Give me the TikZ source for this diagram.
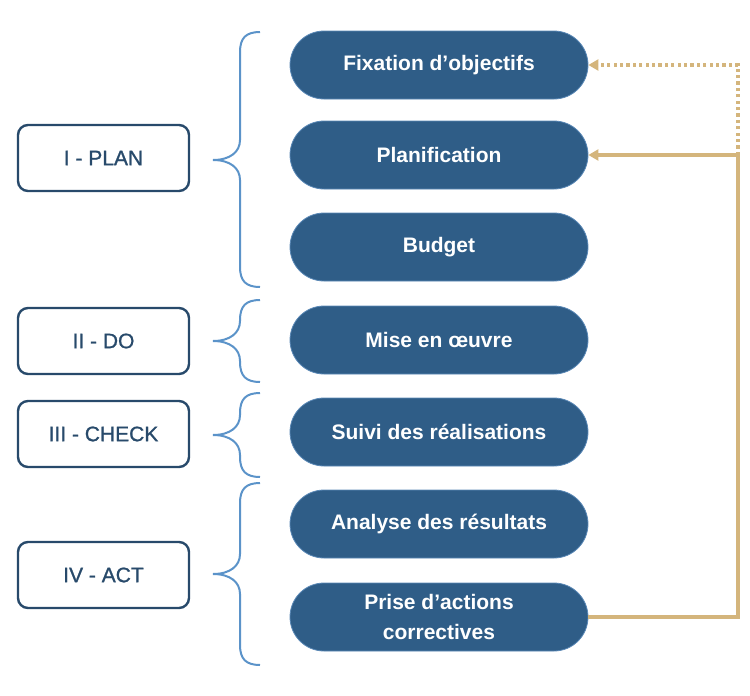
\documentclass[tikz,border=0pt]{standalone}
\usepackage{fontspec}
\setmainfont{Liberation Sans}
\newfontfamily\moyen[FakeBold=1]{Liberation Sans}
\usetikzlibrary{arrows.meta,shapes.misc}
\definecolor{bleu}{HTML}{2F5D87}
\definecolor{bordpill}{HTML}{5A88B6}
\definecolor{marine}{HTML}{284A6B}
\definecolor{ciel}{HTML}{5B93C9}
\definecolor{sable}{HTML}{D4B57C}

\begin{document}
\begin{tikzpicture}[x=1pt,y=-1pt,
    etape/.style ={rounded rectangle, draw=bordpill, line width=0.8pt, fill=bleu, text=white, inner sep=0pt,
                   minimum width=298pt, minimum height=68pt, align=center, font=\fontsize{21}{30}\selectfont\bfseries},
    phase/.style ={rectangle, rounded corners=10pt, draw=marine, line width=2.4pt, fill=white, text=marine,
                   minimum width=171pt, minimum height=66pt, font=\moyen\fontsize{21}{24}\selectfont},
    accolade/.style ={draw=ciel, line width=2pt},
    retour/.style ={draw=sable, line width=3.2pt, -{Triangle[length=10pt,width=11pt]}}]
   \useasboundingbox (0,0) rectangle (750,696);
   % phases
   \node[phase] (P) at (103.5,158) {I - PLAN};
   \node[phase] (D) at (103.5,341) {II - DO};
   \node[phase] (C) at (103.5,434) {III - CHECK};
   \node[phase] (A) at (103.5,575) {IV - ACT};
   % etapes
   \node[etape] (fix) at (439,65)  {Fixation d'objectifs};
   \node[etape] (plan) at (439,155) {Planification};
   \node[etape] (budget) at (439,247) {Budget};
   \node[etape] (mise) at (439,340) {Mise en œuvre};
   \node[etape] (suivi) at (439,432) {Suivi des réalisations};
   \node[etape] (analyse) at (439,524) {Analyse des résultats};
   \node[etape] (prise) at (439,617) {Prise d'actions\\correctives};
   % accolades
   \foreach \t/\m/\b in {32/160/287, 300/341/382, 393/435/477, 483/574/665}
     \draw[accolade] (260,\t) .. controls (246,\t) and (240,\t+6) .. (240,\t+20)
        -- (240,\m-20) .. controls (240,\m-8) and (230,\m) .. (213,\m)
        .. controls (230,\m) and (240,\m+8) .. (240,\m+20)
        -- (240,\b-20) .. controls (240,\b-6) and (246,\b) .. (260,\b);
   % retour
   \coordinate (coin) at (738,155);
   \draw[retour] (prise.east) -| (coin) -- (plan.east);
   \draw[retour, dash pattern=on 3.2pt off 3.2pt] (coin) |- (fix.east);
\end{tikzpicture}
\end{document}
